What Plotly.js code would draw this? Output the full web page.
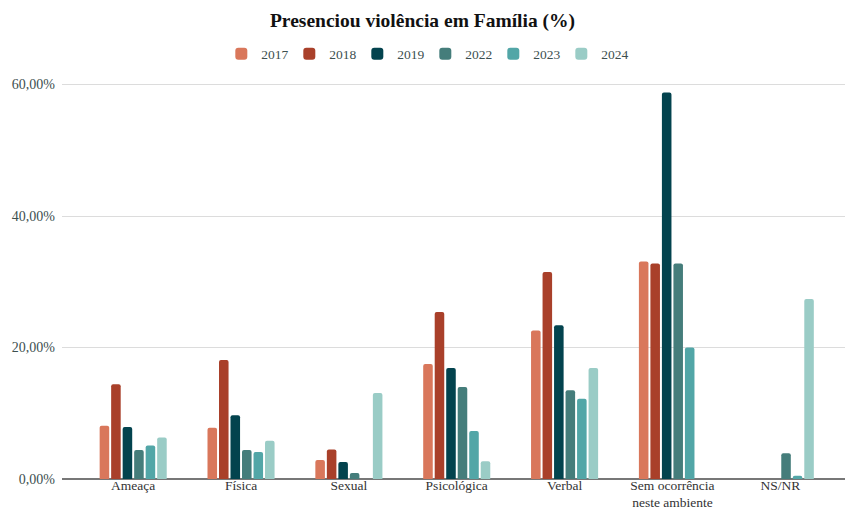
<!DOCTYPE html>
<html>
<head>
<meta charset="utf-8">
<script src="https://cdn.plot.ly/plotly-3.0.1.min.js"></script>
<style>html,body{margin:0;padding:0;background:#fff;}#chart{width:845px;height:509px;}</style>
</head>
<body>
<div id="chart"></div>
<script>
const categories = ["Ameaça", "Física", "Sexual", "Psicológica", "Verbal", "Sem ocorrência<br>neste ambiente", "NS/NR"];
const years = ["2017", "2018", "2019", "2022", "2023", "2024"];
const v2017 = [8.1, 7.8, 2.9, 17.5, 22.6, 33.1, null];
const v2018 = [14.4, 18.1, 4.5, 25.4, 31.5, 32.8, null];
const v2019 = [7.9, 9.7, 2.6, 16.9, 23.4, 58.8, null];
const v2022 = [4.4, 4.4, 0.9, 14.0, 13.5, 32.8, 3.9];
const v2023 = [5.1, 4.1, null, 7.3, 12.2, 20.0, 0.5];
const v2024 = [6.3, 5.8, 13.1, 2.7, 16.9, null, 27.4];
const yTickVals = [0, 20, 40, 60];
const yTickText = ["0,00%", "20,00%", "40,00%", "60,00%"];
const colors = ["#D9775B", "#A9402A", "#03434E", "#457D7B", "#52A6A7", "#9ACCC6"];
const series = [v2017, v2018, v2019, v2022, v2023, v2024];

const FONT = "'Liberation Serif', 'Times New Roman', serif";
const traces = series.map((vals, i) => ({
  type: "bar",
  name: years[i],
  x: categories,
  y: vals,
  marker: { color: colors[i], line: { width: 0 } },
  hoverinfo: "none"
}));

const layout = {
  width: 845, height: 509,
  margin: { l: 62, r: 0, t: 78, b: 30 },
  paper_bgcolor: "#fff", plot_bgcolor: "#fff",
  font: { family: FONT, color: "#3d4f4f", size: 13 },
  title: { text: "<b>Presenciou violência em Família (%)</b>", x: 0.5, xanchor: "center", y: 0.961, yanchor: "middle", font: { family: FONT, size: 19.5, color: "#111" } },
  showlegend: true,
  legend: { orientation: "h", x: 0.464, xanchor: "center", y: 1.06, yanchor: "middle", font: { family: FONT, size: 13.5, color: "#3d4f4f" }, traceorder: "normal", entrywidth: 23, itemwidth: 30 },
  barmode: "group",
  bargap: 0.36,
  bargroupgap: 0.17,
  barcornerradius: 2,
  xaxis: { type: "category", range: [-0.66, 6.6], showgrid: false, ticks: "", tickfont: { family: FONT, size: 13.5, color: "#333" }, ticklabelstandoff: -4, automargin: false, showline: false, zeroline: false },
  yaxis: { range: [0, 61], tickmode: "array", tickvals: yTickVals, ticktext: yTickText, showgrid: true, gridcolor: "#dcdcdc", gridwidth: 1, zeroline: true, zerolinecolor: "#777", zerolinewidth: 2, tickfont: { family: FONT, size: 14, color: "#3d4f4f" }, ticklabelstandoff: 6, automargin: false }
};

Plotly.newPlot("chart", traces, layout, { displayModeBar: false, staticPlot: true });
</script>
</body>
</html>
